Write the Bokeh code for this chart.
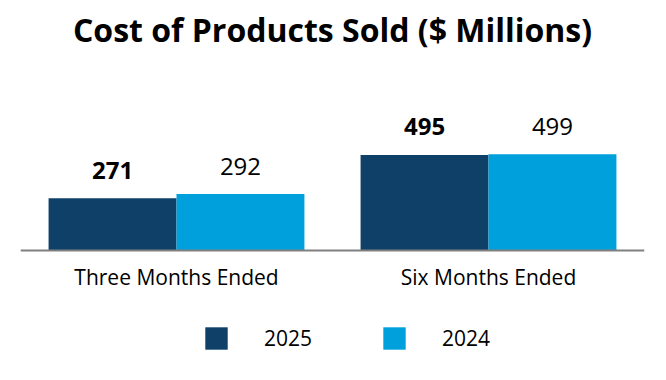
from bokeh.plotting import figure
from bokeh.models import FactorRange, Range1d, Legend, LegendItem, ColumnDataSource, Span
from bokeh.transform import dodge
from bokeh.core.properties import value
from bokeh.embed import file_html
from bokeh.resources import INLINE

periods = ["Three Months Ended", "Six Months Ended"]
years = ["2025", "2024"]
values_2025 = [271, 495]
values_2024 = [292, 499]
colors = ["#0e4068", "#00a0dc"]

src = ColumnDataSource(dict(
    period=periods,
    v2025=values_2025,
    v2024=values_2024,
    l2025=[str(v) for v in values_2025],
    l2024=[str(v) for v in values_2024],
    base=[0, 0],
))

p = figure(frame_width=624, frame_height=315,
           x_range=FactorRange(factors=periods, range_padding=0),
           y_range=Range1d(-622, 1010),
           output_backend="svg", toolbar_location=None,
           title="Cost of Products Sold ($ Millions)",
           min_border_left=20, min_border_right=14, min_border_top=10,
           min_border_bottom=0)

p.title.align = "center"
p.title.text_font = "Open Sans"
p.title.text_font_size = "32px"
p.title.text_font_style = "bold"
p.title.text_color = "black"

bw = 0.41
r1 = p.vbar(x=dodge("period", -bw / 2, range=p.x_range), top="v2025", width=bw,
            source=src, fill_color=colors[0], line_color=None)
r2 = p.vbar(x=dodge("period", bw / 2, range=p.x_range), top="v2024", width=bw,
            source=src, fill_color=colors[1], line_color=None)

p.text(x=dodge("period", -bw / 2, range=p.x_range), y="v2025", text="l2025",
       source=src, text_align="center", text_baseline="alphabetic", y_offset=-28,
       text_font=value("Open Sans"), text_font_style="bold", text_font_size="24px",
       text_color="black")
p.text(x=dodge("period", bw / 2, range=p.x_range), y="v2024", text="l2024",
       source=src, text_align="center", text_baseline="alphabetic", y_offset=-28,
       text_font=value("Open Sans"), text_font_style="normal", text_font_size="24px",
       text_color="black")

# category labels under the baseline
p.text(x="period", y="base", text="period", source=src,
       text_align="center", text_baseline="alphabetic", y_offset=27,
       text_font=value("Open Sans"), text_font_size="21px", text_color="black")

# baseline
p.add_layout(Span(location=0, dimension="width", line_color="#808080", line_width=2))

p.xaxis.visible = False
p.yaxis.visible = False
p.xgrid.visible = False
p.ygrid.visible = False
p.outline_line_color = None

legend = Legend(items=[LegendItem(label=years[0], renderers=[r1]),
                       LegendItem(label=years[1], renderers=[r2])],
                orientation="horizontal", location=(182, 18),
                glyph_width=28, glyph_height=28, label_standoff=34, spacing=0,
                label_width=116,
                label_text_font="Open Sans", label_text_font_size="21px",
                label_text_color="black",
                border_line_color=None, background_fill_alpha=0,
                padding=0, margin=0)
p.add_layout(legend, "center")

open("out.html", "w").write(file_html(p, INLINE))
